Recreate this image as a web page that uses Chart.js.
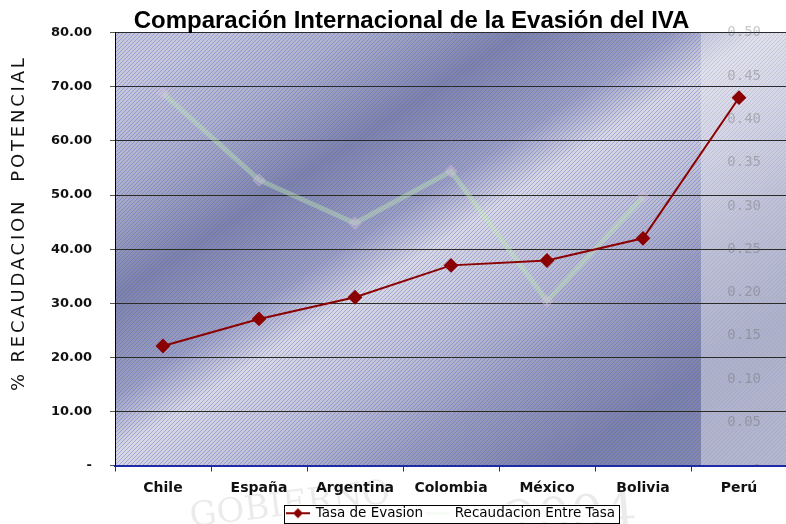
<!DOCTYPE html>
<html>
<head>
<meta charset="utf-8">
<script src="https://cdn.jsdelivr.net/npm/chart.js@4.4.1/dist/chart.umd.min.js"></script>
<style>
  html, body { margin: 0; padding: 0; background: #fff; overflow: hidden; }
  #wrap { width: 795px; height: 524px; }
</style>
</head>
<body>
<div id="wrap"><canvas id="grafico" width="795" height="524"></canvas></div>
<script>
// datos
const paises = ["Chile", "España", "Argentina", "Colombia", "México", "Bolivia", "Perú"]
const tasaEvasion = [22.1, 27.1, 31.1, 37.0, 37.9, 42.0, 68.0]
// serie clara, va contra el eje derecho (0 - 0.50)
const recaudacionEntreTasa = [0.43, 0.33, 0.28, 0.34, 0.19, 0.31, null]
const ticksIzq = [0, 10, 20, 30, 40, 50, 60, 70, 80]
const ticksDer = [0, 0.05, 0.10, 0.15, 0.20, 0.25, 0.30, 0.35, 0.40, 0.45, 0.50]

// marcas para la leyenda
function marcaLinea(color, ancho, diamante) {
    const c = document.createElement("canvas")
    c.width = 24; c.height = 12
    const x = c.getContext("2d")
    x.strokeStyle = color
    x.lineWidth = ancho
    x.beginPath(); x.moveTo(0, 6); x.lineTo(24, 6); x.stroke()
    if (diamante) {
        x.fillStyle = color
        x.beginPath()
        x.moveTo(12, 1); x.lineTo(17, 6); x.lineTo(12, 11); x.lineTo(7, 6)
        x.closePath(); x.fill()
    }
    return c
}
const marcas = [marcaLinea("#8b0000", 2, true), marcaLinea("rgba(200,235,190,0.2)", 3, false)]

// rayado diagonal del fondo
function rayado() {
    const c = document.createElement("canvas")
    c.width = 4; c.height = 4
    const x = c.getContext("2d")
    x.fillStyle = "rgba(85,90,205,0.38)"
    for (let i = 0; i < 4; i++) x.fillRect(3 - i, i, 1, 1)
    return c
}

const fondoPlugin = {
    id: "fondo",
    beforeDraw(chart) {
        const ctx = chart.ctx
        const a = chart.chartArea
        ctx.save()
        ctx.fillStyle = "#fff"
        ctx.fillRect(0, 0, chart.width, chart.height)

        // marca de agua
        ctx.fillStyle = "rgba(0,0,0,0.08)"
        ctx.font = "34px 'DejaVu Serif'"
        ctx.save(); ctx.translate(190, 518); ctx.rotate(-0.12); ctx.fillText("GOBIERNO", 0, 0); ctx.restore()
        ctx.font = "52px 'DejaVu Serif'"
        ctx.save(); ctx.translate(505, 525); ctx.rotate(-0.08); ctx.fillText("2004", 0, 0); ctx.restore()

        const g = ctx.createLinearGradient(a.left + 135, a.top - 32, a.left + 515, a.top + 553)
        g.addColorStop(0, "#c6c8da")
        g.addColorStop(0.12, "#acb0c9")
        g.addColorStop(0.25, "#7e84a8")
        g.addColorStop(0.37, "#9ca0bf")
        g.addColorStop(0.44, "#d8d9e2")
        g.addColorStop(0.53, "#c4c6d8")
        g.addColorStop(0.66, "#9a9ebc")
        g.addColorStop(0.8, "#7c82a6")
        g.addColorStop(1, "#8a90b0")
        ctx.fillStyle = g
        ctx.fillRect(a.left, a.top, a.width, a.height)
        ctx.fillStyle = ctx.createPattern(rayado(), "repeat")
        ctx.fillRect(a.left, a.top, a.width, a.height)
        // franja clara a la derecha
        ctx.fillStyle = "rgba(236,236,240,0.45)"
        ctx.fillRect(a.left + 586, a.top, a.right - a.left - 586, a.height)

        // recuadro de la leyenda
        const cajas = chart.legend.legendHitBoxes
        if (cajas && cajas.length) {
            const izq = Math.min(...cajas.map(b => b.left)) - 3
            const der = Math.max(...cajas.map(b => b.left + b.width)) + 4
            const arr = cajas[0].top - 2
            const alto = cajas[0].height + 4
            ctx.fillStyle = "#fff"
            ctx.fillRect(izq, arr, der - izq, alto)
            ctx.strokeStyle = "#000"
            ctx.lineWidth = 1
            ctx.strokeRect(Math.round(izq) + 0.5, Math.round(arr) + 0.5, Math.round(der - izq), Math.round(alto))
        }
        ctx.restore()
    },
    afterDraw(chart) {
        // titulo del eje y, con letras espaciadas
        const ctx = chart.ctx
        const a = chart.chartArea
        ctx.save()
        ctx.translate(19, (a.top + a.bottom) / 2 - 26)
        ctx.rotate(-Math.PI / 2)
        ctx.font = "18px 'DejaVu Sans'"
        ctx.letterSpacing = "2.8px"
        ctx.fillStyle = "#111"
        ctx.textAlign = "center"
        ctx.textBaseline = "middle"
        ctx.fillText("% RECAUDACION  POTENCIAL", 0, 0)
        ctx.restore()
    }
}

new Chart(document.getElementById("grafico"), {
    type: "line",
    data: {
        labels: paises,
        datasets: [{
            label: "Tasa de Evasion",
            data: tasaEvasion,
            yAxisID: "y",
            borderColor: "#8b0000",
            backgroundColor: "#8b0000",
            borderWidth: 2,
            pointStyle: "rectRot",
            pointRadius: 6,
            pointBackgroundColor: "#8b0000",
            pointBorderColor: "#8b0000",
            tension: 0
        }, {
            label: "Recaudacion Entre Tasa",
            data: recaudacionEntreTasa,
            yAxisID: "y2",
            borderColor: "rgba(190,235,180,0.4)",
            backgroundColor: "rgba(190,235,180,0.4)",
            borderWidth: 5,
            pointStyle: "rectRot",
            pointRadius: 6,
            pointBackgroundColor: "rgba(215,200,230,0.3)",
            pointBorderColor: "rgba(220,185,220,0.55)",
            pointBorderWidth: 1,
            tension: 0
        }]
    },
    options: {
        responsive: false,
        devicePixelRatio: 1,
        animation: false,
        layout: { padding: { left: 28, right: 0, top: 0, bottom: -6 } },
        plugins: {
            title: {
                display: true,
                text: "Comparación Internacional de la Evasión del IVA",
                color: "#000",
                font: { family: "Liberation Sans", size: 24, weight: "bold" },
                padding: { top: 7, bottom: -3 }
            },
            legend: {
                position: "bottom",
                fullSize: false,
                labels: {
                    usePointStyle: true,
                    pointStyleWidth: 22,
                    padding: 3,
                    color: "#111",
                    font: { family: "DejaVu Sans", size: 13.5 },
                    generateLabels(chart) {
                        return chart.data.datasets.map((ds, i) => ({
                            text: ds.label,
                            pointStyle: marcas[i],
                            fillStyle: ds.borderColor,
                            strokeStyle: ds.borderColor,
                            lineWidth: 0,
                            hidden: false,
                            datasetIndex: i
                        }))
                    }
                }
            },
            tooltip: { enabled: false }
        },
        scales: {
            x: {
                offset: true,
                grid: { display: true, drawOnChartArea: false, offset: true, tickLength: 6, color: "#333" },
                border: { color: "#1f2aa8", width: 2 },
                ticks: { padding: 8, color: "#111", font: { family: "DejaVu Sans", size: 14, weight: "bold" } },
                afterFit: s => { s.height = 38 }
            },
            y: {
                min: 0,
                max: 80,
                afterBuildTicks: s => { s.ticks = ticksIzq.map(v => ({ value: v })) },
                afterFit: s => { s.width = 87 },
                border: { color: "#000", width: 1 },
                grid: { color: "#2a2a2a", lineWidth: 1, tickLength: 5, tickColor: "#555" },
                ticks: {
                    padding: 18,
                    color: "#111",
                    font: { family: "DejaVu Sans", size: 13, weight: "bold" },
                    callback: v => v === 0 ? "-" : v.toFixed(2)
                }
            },
            y2: {
                position: "right",
                min: 0,
                max: 0.5,
                afterBuildTicks: s => { s.ticks = ticksDer.map(v => ({ value: v })) },
                afterFit: s => { s.width = 0 },
                grid: { display: false },
                border: { display: false },
                ticks: {
                    mirror: true,
                    padding: -26,
                    color: "rgba(95,95,95,0.35)",
                    font: { family: "DejaVu Sans Mono", size: 14 },
                    callback: v => v === 0 ? "-" : v.toFixed(2)
                }
            }
        }
    },
    plugins: [fondoPlugin]
})
</script>
</body>
</html>
